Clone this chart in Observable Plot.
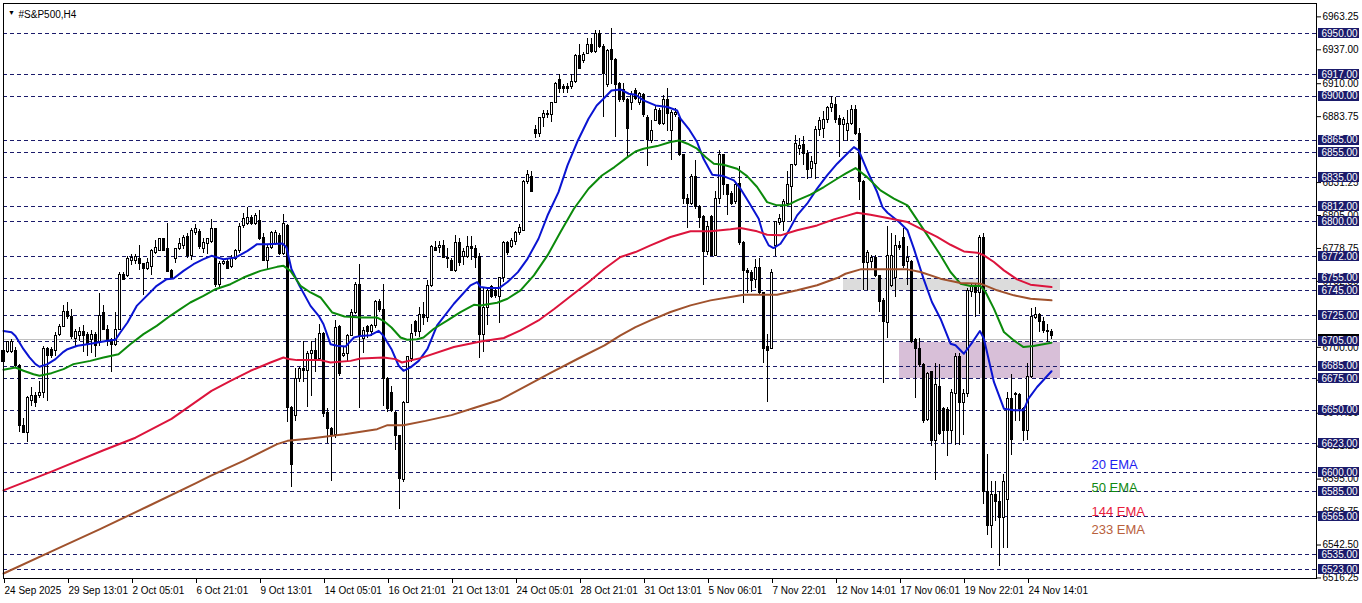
<!DOCTYPE html>
<html><head><meta charset="utf-8">
<script src="https://cdn.jsdelivr.net/npm/d3@7"></script>
<script src="https://cdn.jsdelivr.net/npm/@observablehq/plot@0.6"></script>
<style>html,body{margin:0;padding:0;background:#fff;overflow:hidden}</style>
</head><body><div id="chart"></div>
<script>
// ---- H4 candles (bar index 0 = 24 Sep 2025) ----
const opens = [
6688,6696,6696,6697,6685,6637,6632,6657,6661,6661,
6664,6699,6698,6697,6710,6716,6728,6724,6707,6709,
6712,6710,6706,6710,6704,6727,6714,6706,6702,6714,
6758,6757,6769,6769,6770,6766,6762,6764,6775,6777,
6786,6778,6761,6770,6778,6781,6788,6773,6791,6792,
6778,6782,6784,6794,6750,6766,6768,6764,6770,6777,
6797,6798,6803,6798,6801,6787,6769,6779,6782,6789,
6774,6797,6652,6645,6675,6683,6681,6695,6697,6691,
6711,6648,6635,6630,6716,6693,6695,6709,6727,6750,
6707,6716,6712,6717,6736,6730,6675,6664,6648,6629,
6594,6656,6691,6720,6712,6726,6723,6749,6779,6779,
6781,6771,6769,6761,6783,6772,6772,6780,6778,6772,
6710,6731,6748,6745,6740,6755,6783,6780,6784,6791,
6793,6832,6836,6873,6870,6883,6886,6885,6895,6913,
6907,6907,6907,6911,6932,6928,6934,6941,6935,6950,
6939,6909,6937,6929,6910,6905,6897,6895,6904,6895,
6901,6883,6864,6880,6888,6878,6897,6872,6885,6883,
6853,6818,6814,6836,6812,6804,6776,6804,6773,6818,
6853,6829,6822,6816,6830,6783,6761,6759,6754,6763,
6743,6700,6699,6781,6799,6800,6814,6828,6845,6858,
6861,6854,6842,6846,6873,6874,6881,6891,6893,6882,
6877,6872,6878,6889,6870,6832,6767,6768,6771,6757,
6737,6719,6749,6755,6781,6787,6768,6768,6706,6699,
6686,6642,6680,6625,6668,6651,6650,6633,6663,6692,
6656,6663,6744,6748,6743,6787,6585,6558,6582,6577,
6564,6578,6659,6662,6662,6651,6633,6676,6723,6726,
6720,6713,6712];
const highs = [
6705,6705,6706,6700,6686,6643,6661,6668,6664,6673,
6701,6700,6700,6712,6718,6733,6736,6730,6714,6716,
6717,6712,6713,6712,6743,6733,6717,6707,6728,6760,
6760,6772,6774,6774,6781,6767,6771,6778,6785,6787,
6787,6799,6762,6779,6787,6789,6791,6795,6798,6794,
6787,6787,6802,6794,6768,6770,6770,6773,6778,6799,
6807,6811,6805,6807,6809,6791,6781,6792,6793,6791,
6806,6798,6653,6683,6684,6705,6697,6705,6707,6718,
6712,6651,6636,6721,6717,6701,6710,6730,6752,6766,
6716,6717,6718,6737,6738,6750,6676,6669,6649,6630,
6657,6693,6718,6721,6732,6736,6753,6781,6784,6784,
6785,6779,6771,6789,6787,6779,6788,6788,6781,6775,
6747,6748,6749,6747,6756,6784,6784,6787,6792,6798,
6833,6841,6840,6877,6883,6889,6889,6895,6911,6917,
6909,6910,6917,6933,6941,6935,6946,6946,6952,6952,
6941,6937,6954,6930,6911,6910,6898,6904,6906,6903,
6902,6885,6881,6893,6890,6901,6906,6889,6890,6883,
6854,6822,6838,6849,6813,6805,6800,6805,6824,6857,
6854,6830,6824,6832,6844,6784,6763,6761,6770,6771,
6744,6710,6762,6800,6806,6818,6840,6846,6869,6866,
6868,6857,6852,6876,6883,6888,6892,6900,6899,6885,
6883,6889,6893,6893,6874,6833,6777,6773,6773,6757,
6739,6796,6791,6789,6784,6795,6780,6769,6707,6707,
6687,6680,6681,6687,6686,6652,6652,6666,6695,6695,
6666,6747,6750,6751,6789,6791,6615,6593,6593,6585,
6599,6664,6678,6664,6663,6652,6687,6731,6732,6727,
6724,6718,6714];
const lows = [
6686,6695,6695,6684,6632,6631,6624,6653,6652,6659,
6659,6657,6691,6693,6709,6716,6722,6706,6700,6705,
6696,6693,6695,6692,6701,6713,6701,6680,6701,6713,
6753,6756,6765,6766,6761,6741,6761,6757,6774,6776,
6776,6760,6754,6767,6777,6778,6771,6769,6789,6778,
6775,6774,6783,6748,6748,6765,6762,6763,6769,6775,
6795,6797,6797,6797,6785,6768,6761,6778,6781,6773,
6773,6640,6588,6641,6672,6672,6652,6661,6680,6689,
6644,6623,6593,6627,6677,6692,6688,6709,6726,6651,
6695,6707,6709,6715,6728,6653,6648,6648,6618,6571,
6592,6656,6688,6709,6708,6717,6720,6748,6776,6775,
6771,6763,6761,6760,6764,6765,6771,6769,6763,6691,
6696,6717,6739,6739,6719,6752,6773,6779,6781,6789,
6792,6830,6823,6866,6867,6875,6882,6879,6894,6902,
6902,6902,6905,6910,6922,6926,6933,6934,6934,6938,
6883,6907,6909,6867,6895,6895,6851,6889,6897,6893,
6883,6844,6862,6880,6877,6877,6872,6849,6883,6852,
6814,6795,6813,6810,6795,6749,6773,6772,6772,6814,
6821,6805,6813,6814,6781,6735,6743,6744,6747,6741,
6687,6656,6698,6772,6797,6792,6812,6800,6844,6853,
6845,6834,6835,6834,6868,6866,6878,6887,6878,6851,
6864,6864,6877,6869,6817,6745,6745,6763,6756,6728,
6671,6707,6748,6740,6777,6763,6749,6703,6659,6684,
6639,6641,6621,6594,6630,6623,6613,6623,6622,6622,
6630,6660,6740,6724,6726,6575,6550,6540,6561,6525,
6540,6540,6614,6641,6641,6625,6626,6675,6722,6712,
6711,6704,6706];
const closes = [
6697,6704,6704,6685,6637,6632,6660,6661,6656,6664,
6699,6693,6693,6709,6716,6728,6724,6708,6712,6712,
6709,6702,6710,6701,6725,6714,6706,6702,6714,6758,
6754,6770,6771,6772,6766,6762,6767,6777,6779,6786,
6777,6760,6755,6778,6782,6787,6773,6793,6794,6780,
6783,6786,6794,6750,6766,6768,6762,6770,6777,6796,
6802,6803,6798,6805,6786,6769,6779,6791,6791,6774,
6798,6652,6606,6675,6683,6681,6695,6697,6691,6711,
6647,6635,6630,6715,6679,6695,6709,6727,6750,6709,
6713,6712,6717,6736,6730,6675,6651,6649,6629,6595,
6656,6692,6711,6712,6726,6723,6749,6780,6777,6781,
6771,6770,6761,6783,6767,6776,6780,6778,6771,6710,
6731,6745,6740,6741,6755,6783,6775,6785,6791,6795,
6832,6837,6824,6870,6883,6886,6885,6895,6910,6906,
6906,6906,6911,6932,6922,6933,6941,6935,6950,6939,
6918,6936,6929,6909,6897,6897,6874,6901,6898,6902,
6885,6865,6872,6889,6878,6897,6886,6887,6887,6853,
6818,6814,6836,6812,6803,6776,6796,6773,6818,6853,
6829,6821,6814,6829,6783,6761,6759,6753,6763,6743,
6699,6697,6759,6800,6802,6816,6829,6845,6862,6860,
6854,6841,6848,6873,6880,6881,6891,6894,6881,6877,
6881,6878,6889,6870,6832,6767,6775,6771,6757,6736,
6720,6773,6773,6781,6779,6765,6771,6704,6699,6686,
6641,6679,6625,6670,6631,6633,6633,6664,6692,6656,
6663,6745,6748,6743,6787,6585,6558,6582,6577,6564,
6593,6659,6626,6663,6651,6633,6676,6724,6726,6720,
6713,6712,6709];

// ---- moving averages: [bar index, value] ----
const ema20Idx = [0,2,3,5,6.5,8,9,11,13,15,16,18.5,21,23.5,26,28,29.2,31,33.3,35.8,38.3,40.8,42.5,45,47.5,50,52,55,58,61,63.4,66,69.75,70.75,72,74,76.75,78.8,80,81.75,83.4,85.5,87.6,89.25,91.75,93.8,95,97,98.8,100,101.75,103.8,106,108.4,112.6,116.75,118.4,119.25,121,123.9,126,128.6,131,133.75,136,138.75,141,143.6,146.25,148.3,150,152,154.25,156.3,158,160,163,166,168.4,169.25,171.3,173.4,175,177.2,180,182.6,184.25,186.3,188.8,190,191.3,192.5,194.25,195.9,198.4,200.9,203.4,205.9,208.4,210.9,212.6,213.8,215.9,218.4,219.75,221,223.9,226,227.6,230,232.1,234.25,236.75,238,240.1,242.25,244.1,245.1,247.6,250.1,252.6,255,256.25,258.4,262];
const ema20Val = [6713,6712,6709,6698.5,6692,6686.6,6684.5,6686.6,6690.6,6696.4,6698.5,6701.2,6702.5,6703.8,6705.2,6706,6711.8,6719.8,6733,6741,6749,6754.3,6754.8,6760.9,6766.2,6770.2,6772.9,6770.2,6771.5,6776.8,6782.2,6782.2,6782.7,6779.5,6762.2,6749,6733,6725.1,6718.4,6702.5,6701.2,6700.6,6707.8,6709.1,6709.7,6713.1,6709.1,6698.5,6685.3,6681.3,6684,6689.2,6698.8,6717.4,6734.7,6749.3,6752,6748,6747.2,6747.2,6752,6759.9,6770.5,6786.5,6805,6823.6,6844.9,6864.8,6882.1,6892.7,6898,6904.6,6905.4,6902,6901.2,6896.7,6892.7,6891.4,6888.7,6882.1,6874.1,6863.5,6850.2,6837.5,6836.4,6833,6826.4,6815.7,6802.5,6789.2,6781.2,6779.1,6782.5,6790.5,6805.1,6814.4,6826.4,6837,6846.3,6854.2,6859.5,6856.9,6841,6823.7,6811.7,6807.2,6799.8,6793.2,6778.6,6754.7,6736.1,6722.8,6702.9,6701.6,6694.9,6704.2,6713,6706.9,6672.4,6651.1,6649.8,6649.8,6659.1,6668.4,6680.9];
const ema50Idx = [0,3,5,7.5,9,12,15,17.5,21.7,25,28.75,31.7,35,38.3,41.7,44.2,46.7,50,53,56.75,60,64.25,68.4,70,71.75,74.25,76.75,79.25,82.2,85.25,89.4,93.4,95,97,99.25,100.9,103.4,105,107.6,111,114.25,117.6,119.25,123.4,126,129.25,132.6,136,139.25,142.6,146.25,149.6,152.75,156,158,160,163.4,166.75,168.9,171,173.4,175.5,177.6,180,183.4,185.9,188.4,190.9,193.4,195.9,198.4,201.75,205.1,208.4,210.5,213,215.9,219.25,222.6,226,228.5,231,234.25,236.75,239.25,241.75,244.25,245.5,247.6,250.1,252.6,255,257.5,262];
const ema50Val = [6682.1,6683.9,6681.3,6678.6,6677.3,6679.4,6682.6,6686.6,6689.2,6691.9,6694.5,6702.5,6710.5,6717.1,6725.1,6730.4,6735.7,6741,6746.3,6750.3,6755.6,6760.9,6764.1,6764.9,6760.9,6749,6743.7,6739.7,6727.7,6724.5,6723.7,6723.7,6721.1,6715.8,6707.8,6706,6706.5,6707.8,6714.8,6721.4,6728.1,6733.9,6733.4,6735.5,6738.7,6745.3,6757.3,6773.2,6791.8,6810.4,6826.3,6836.9,6843.6,6851.5,6856,6858.2,6860.3,6863.5,6864.8,6862.2,6858.2,6851.6,6846.3,6845.5,6842.3,6836.4,6827.7,6815.7,6813.1,6813.1,6817,6821.6,6827.7,6834.3,6838.3,6842.8,6835.6,6825,6818.4,6813.1,6801.1,6789.2,6773.3,6760,6750.7,6748.8,6748.8,6744.1,6730.8,6712.2,6705.5,6700.2,6701,6703.7];
const ema144Idx = [0,12,25,33,42,52,56.75,61.75,66.75,70,71.25,73.4,79.25,81.75,86.75,89.25,95,98,99.6,104.25,112.6,119.25,125.1,129.25,133.75,137.75,142,146.25,150.25,154.25,158,161.75,166.75,171.75,176.75,181.75,184.25,188.4,190.9,194.25,198.4,203.4,207.6,210.5,213.4,216.75,221,226,229.25,233.4,236.75,240.1,243.4,245.1,247.6,250.1,253.4,256.75,262];
const ema144Val = [6586,6601,6618,6628,6643,6665.3,6673.3,6681.3,6687.9,6691.9,6690.6,6689.8,6689.8,6687.9,6689.2,6691.1,6691.9,6690.6,6687.9,6691.4,6700.2,6704.7,6707.4,6713.5,6721.4,6730.7,6741.3,6751.9,6762.6,6771.9,6775.9,6781.2,6787.9,6792.4,6792.4,6794,6795,6792.4,6789.7,6789.2,6793.2,6797.1,6801.9,6804.5,6807.2,6805.6,6803,6799.8,6794.5,6787.9,6781.7,6776.4,6775.4,6773.3,6768,6761.3,6754.1,6749.9,6748];
const ema233Idx = [0,12,24,36,48,51.75,60,68.4,71,76.75,85.25,93.4,96,100,105.5,112,118,124,130,137,143.6,150.25,154.25,158,161.75,166.75,171.75,176.75,181.75,185.1,193.4,198.4,203.4,208.4,210.5,214.25,226,229.25,234.25,239.25,244.25,248.4,252.6,256.75,262];
const ema233Val = [6519.8,6537.4,6554.9,6573.2,6591.6,6597.6,6609.6,6622.9,6625.5,6627.4,6630.8,6634.8,6638,6638,6641.4,6646,6652,6658,6668,6680,6690.9,6701.5,6709.5,6716.1,6721.5,6728.1,6733.4,6737.4,6740.1,6741.9,6741.9,6745.4,6749.4,6755.2,6758.6,6762.1,6762.1,6760,6754.7,6751.2,6750.7,6745.4,6741.4,6738.7,6737.4];

// ---- levels, zones, axes ----
const levels = [6950,6917,6900,6865,6855,6835,6812,6800,6772,6755,6745,6725,6705,6685,6675,6650,6623,6600,6585,6565,6535,6523];
const bidPrice = 6706.5;
const zoneFrom = [210, 224];
const zoneTo = [264.25, 264.25];
const zoneLow = [6745, 6675];
const zoneHigh = [6755, 6704];
const yTickValues = [6963.25,6937,6910,6883.75,6831.25,6805,6778.75,6752.5,6700,6673.75,6647.5,6621.25,6595,6568.75,6542.5,6516.25];
const yTickLabels = ["6963.25","6937.00","6910.00","6883.75","6831.25","6805.00","6778.75","6752.50","6700.00","6673.75","6647.50","6621.25","6595.00","6568.75","6542.50","6516.25"];
const xTickIdx = [0,16,32,48,64,80,96,112,128,144,160,176,192,208,224,240,256];
const xTickLabels = ["24 Sep 2025","29 Sep 13:01","2 Oct 05:01","6 Oct 21:01","9 Oct 13:01","14 Oct 05:01","16 Oct 21:01","21 Oct 13:01","24 Oct 05:01","28 Oct 21:01","31 Oct 13:01","5 Nov 06:01","7 Nov 22:01","12 Nov 14:01","17 Nov 06:01","19 Nov 22:01","24 Nov 14:01"];
const legendNames = ["20 EMA","50 EMA","144 EMA","233 EMA"];
const lineColors = ["#0a14d2","#0b8a0b","#dc143c","#a0522d"];
const legendColors = ["#1e1ef0","#108a10","#e8203c","#b8603c"];
const title = "#S&P500,H4";

// ---- build tables ----
const bars = opens.map((o, i) => ({i, o, h: highs[i], l: lows[i], c: closes[i]}));
const zones = zoneFrom.map((x1, k) => ({x1, x2: zoneTo[k], y1: zoneLow[k], y2: zoneHigh[k], fill: k === 0 ? "#dcdcdc" : "#d8bfd8"}));
const emaSets = [[ema20Idx, ema20Val], [ema50Idx, ema50Val], [ema144Idx, ema144Val], [ema233Idx, ema233Val]];
const yLab = new Map(yTickValues.map((v, k) => [v, yTickLabels[k]]));
const xLab = new Map(xTickIdx.map((v, k) => [v, xTickLabels[k]]));
const legendY = [6606, 6588.4, 6569.3, 6554.9];
const legend = legendNames.map((n, k) => ({n, c: legendColors[k], y: legendY[k]}));
const NAVY = "#1b1b6b";
const crisp = "crispEdges";

const emaMarks = emaSets.map(([idx, val], k) =>
  Plot.line(idx.map((x, j) => ({x, v: val[j]})), {x: "x", y: "v", stroke: lineColors[k], strokeWidth: 2, strokeLinejoin: "round"}));

const chart = Plot.plot({
  width: 1362, height: 603,
  marginLeft: 3, marginRight: 46, marginTop: 3, marginBottom: 25,
  x: {domain: [0, 328.25], axis: null},
  y: {domain: [6515.83, 6973.9], axis: null},
  style: {fontFamily: "'Liberation Sans', Arial, sans-serif", fontSize: "10px", background: "#fff", color: "#000"},
  marks: [
    Plot.rect(zones, {x1: "x1", x2: "x2", y1: "y1", y2: "y2", fill: "fill", shapeRendering: crisp}),
    Plot.ruleY(levels, {stroke: NAVY, strokeDasharray: "4,3", shapeRendering: crisp}),
    Plot.ruleY([bidPrice], {stroke: "#c0c0c0", shapeRendering: crisp}),
    Plot.ruleX(bars, {x: "i", y1: "l", y2: "h", stroke: "#000", shapeRendering: crisp}),
    Plot.rect(bars, {
      x1: d => d.i - 0.25, x2: d => d.i + 0.25,
      y1: "o", y2: d => Math.abs(d.c - d.o) < 0.8 ? d.o + 0.8 : d.c,
      fill: d => d.c >= d.o ? "#fff" : "#000", stroke: "#000", strokeWidth: 1, shapeRendering: crisp
    }),
    ...emaMarks,
    Plot.frame({stroke: "#000", shapeRendering: crisp}),
    Plot.axisY({anchor: "right", ticks: yTickValues, tickFormat: d => yLab.get(d), tickSize: 4, tickPadding: 2, label: null, fontSize: 10}),
    Plot.axisX({anchor: "bottom", ticks: xTickIdx, tickFormat: d => xLab.get(d), tickSize: 5, tickPadding: 3, textAnchor: "start", dx: 1, label: null, fontSize: 10}),
    Plot.rect([bidPrice], {x1: 328.75, x2: 339, y1: d => d - 4, y2: d => d + 4, fill: "#000", shapeRendering: crisp}),
    Plot.rect(levels, {x1: 328.75, x2: 339, y1: d => d - 4, y2: d => d + 4, fill: NAVY, shapeRendering: crisp}),
    Plot.text(levels, {x: 329.5, y: d => d, text: d => d.toFixed(2), fill: "#fff", textAnchor: "start", fontSize: 10}),
    Plot.text(legend, {x: 272, y: "y", text: "n", fill: "c", textAnchor: "start", fontSize: 13}),
    Plot.text(["▼"], {frameAnchor: "top-left", dx: 4.5, dy: 7, fontSize: 7, fill: "#000"}),
    Plot.text([title], {frameAnchor: "top-left", dx: 15, dy: 7, textAnchor: "start", fontSize: 10, fill: "#000"})
  ]
});
document.getElementById("chart").appendChild(chart);
</script>
</body></html>
